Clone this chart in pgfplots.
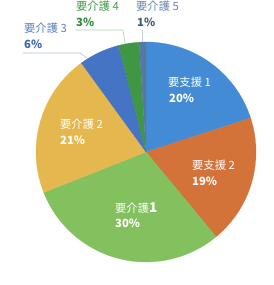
\documentclass[border=0pt]{standalone}
\usepackage{pgfplots}
\pgfplotsset{compat=1.18}
\usepackage{fontspec}
\setmainfont{Noto Sans CJK JP}
\definecolor{c1}{HTML}{438BD5}
\definecolor{c2}{HTML}{D3733A}
\definecolor{c3}{HTML}{83C05E}
\definecolor{c4}{HTML}{E4B84F}
\definecolor{c5}{HTML}{4574C4}
\definecolor{c6}{HTML}{3F9644}
\definecolor{c7}{HTML}{5778A0}
\definecolor{t3a}{HTML}{5B7FC0}
\definecolor{t3b}{HTML}{3A64B0}
\definecolor{t4a}{HTML}{3F9A45}
\definecolor{t4b}{HTML}{2F8A38}
\definecolor{t5a}{HTML}{6A85A8}
\definecolor{t5b}{HTML}{3E5C80}
\tikzset{lab/.style={inner sep=0pt,anchor=west,font=\fontsize{11.3}{13}\selectfont}}
% slice: colour, cumulative start (%), value (%)
\newcommand\slice[3]{\addplot[fill=#1,draw=#1,line width=0.2pt,domain={90-3.6*(#2+#3)}:{90-3.6*(#2)},samples=90] ({146+110*cos(x)},{133+110*sin(x)}) -- (axis cs:146,133) -- cycle;}
\begin{document}
\begin{tikzpicture}
\begin{axis}[x=1pt,y=1pt,xmin=0,xmax=274,ymin=0,ymax=285,hide axis,scale only axis,clip=false]
\path (rel axis cs:0,0) rectangle (rel axis cs:1,1);
\slice{c1}{0}{20}
\slice{c2}{20}{19}
\slice{c3}{39}{30}
\slice{c4}{69}{21}
\slice{c5}{90}{6}
\slice{c6}{96}{3}
\slice{c7}{99}{1}
% leader lines
\addplot[draw=t3a!50,line width=0.6pt,no marks] coordinates {(23,232) (80,232) (87,227)};
\addplot[draw=t4a!45,line width=0.6pt,no marks] coordinates {(75,255) (123,255) (125,242)};
\addplot[draw=t5a!40,line width=0.6pt,no marks] coordinates {(142,255) (142,243)};
% labels
\node[lab,text=white] at (axis cs:168,203) {要支援 1};
\node[lab,text=white] at (axis cs:169,187) {\bfseries 20\%};
\node[lab,text=white] at (axis cs:192,120) {要支援 2};
\node[lab,text=white] at (axis cs:192,104) {\bfseries 19\%};
\node[lab,text=white] at (axis cs:115,77) {要介護{\bfseries\fontsize{13.5}{13}\selectfont 1}};
\node[lab,text=white] at (axis cs:115,62) {\bfseries 30\%};
\node[lab,text=white] at (axis cs:60,161) {要介護 2};
\node[lab,text=white] at (axis cs:60,145) {\bfseries 21\%};
\node[lab,text=t3a] at (axis cs:24,257) {要介護 3};
\node[lab,text=t3b] at (axis cs:24,241) {\bfseries 6\%};
\node[lab,text=t4a] at (axis cs:76,279) {要介護 4};
\node[lab,text=t4b] at (axis cs:76,263) {\bfseries 3\%};
\node[lab,text=t5a] at (axis cs:136,279) {要介護 5};
\node[lab,text=t5b] at (axis cs:137,263) {\bfseries 1\%};
\end{axis}
\end{tikzpicture}
\end{document}
